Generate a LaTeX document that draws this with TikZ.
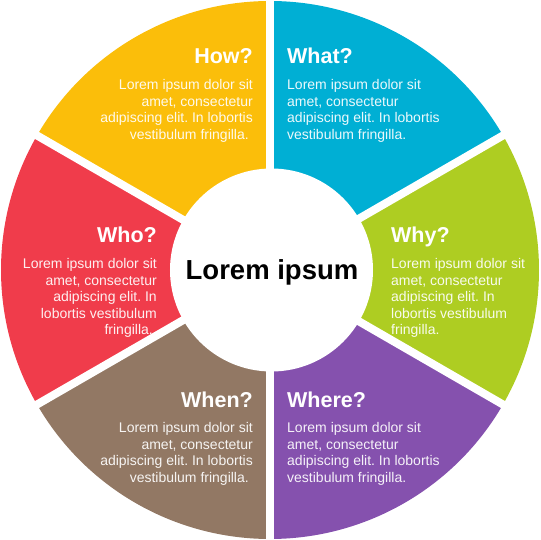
\documentclass[tikz,border=0pt]{standalone}
\usepackage{fontspec}
\setmainfont{Liberation Sans}
\usetikzlibrary{positioning}
\frenchspacing

\definecolor{whatblue}{RGB}{0,175,212}
\definecolor{whygreen}{RGB}{174,205,34}
\definecolor{wherepurple}{RGB}{133,81,174}
\definecolor{whenbrown}{RGB}{146,120,100}
\definecolor{whored}{RGB}{240,60,75}
\definecolor{howyellow}{RGB}{251,190,10}

\begin{document}
\begin{tikzpicture}[x=1pt,y=1pt,node distance=15pt]
  \tikzstyle{heading}=[text=white,inner sep=0pt,
                       font=\fontsize{21.5}{25}\selectfont\bfseries]
  \tikzstyle{body}=[text=white,text opacity=0.92,inner sep=0pt,
                    font=\fontsize{14}{16.5}\selectfont]

  \useasboundingbox (-270,-270) rectangle (270,270);

  % ring of sectors
  \foreach \start/\col in {90/whatblue,30/whygreen,-30/wherepurple,
                           -90/whenbrown,-150/whored,150/howyellow}
    \fill[\col] (0,0) -- (\start:269) arc (\start:\start-60:269) -- cycle;

  % white gaps and hub
  \foreach \a in {90,30,-30}
    \draw[white,line width=8pt] (\a:275) -- (\a+180:275);
  \fill[white] (1.5,0) circle (101.5);

  \node[font=\fontsize{27.5}{32}\selectfont\bfseries,anchor=base] (hub) at (2,-10) {Lorem ipsum};

  \node[heading,anchor=base west] (whathead) at (17,206)   {What?};
  \node[heading,anchor=base east] (howhead)  at (-17,206)  {How?};
  \node[heading,anchor=base west] (whyhead)  at (121,27)   {Why?};
  \node[heading,anchor=base east] (whohead)  at (-113,27)  {Who?};
  \node[heading,anchor=base west] (wherehead) at (17,-137) {Where?};
  \node[heading,anchor=base east] (whenhead) at (-17,-137) {When?};

  \node[body,align=left,below=15.3pt of whathead.base west,anchor=north west] (whattext)
    {Lorem ipsum dolor sit\\amet, consectetur\\adipiscing elit. In lobortis\\vestibulum fringilla.};
  \node[body,align=right,below=15.3pt of howhead.base east,anchor=north east] (howtext)
    {Lorem ipsum dolor sit\\amet, consectetur\\adipiscing elit. In lobortis\\vestibulum fringilla.\hspace*{4pt}};
  \node[body,align=left,below=15.3pt of whyhead.base west,anchor=north west] (whytext)
    {Lorem ipsum dolor sit\\amet, consectetur\\adipiscing elit. In\\lobortis vestibulum\\fringilla.};
  \node[body,align=right,below=15.3pt of whohead.base east,anchor=north east] (whotext)
    {Lorem ipsum dolor sit\\amet, consectetur\\adipiscing elit. In\\lobortis vestibulum\\fringilla.\hspace*{4pt}};
  \node[body,align=left,below=15.3pt of wherehead.base west,anchor=north west] (wheretext)
    {Lorem ipsum dolor sit\\amet, consectetur\\adipiscing elit. In lobortis\\vestibulum fringilla.};
  \node[body,align=right,below=15.3pt of whenhead.base east,anchor=north east] (whentext)
    {Lorem ipsum dolor sit\\amet, consectetur\\adipiscing elit. In lobortis\\vestibulum fringilla.\hspace*{4pt}};
\end{tikzpicture}
\end{document}
